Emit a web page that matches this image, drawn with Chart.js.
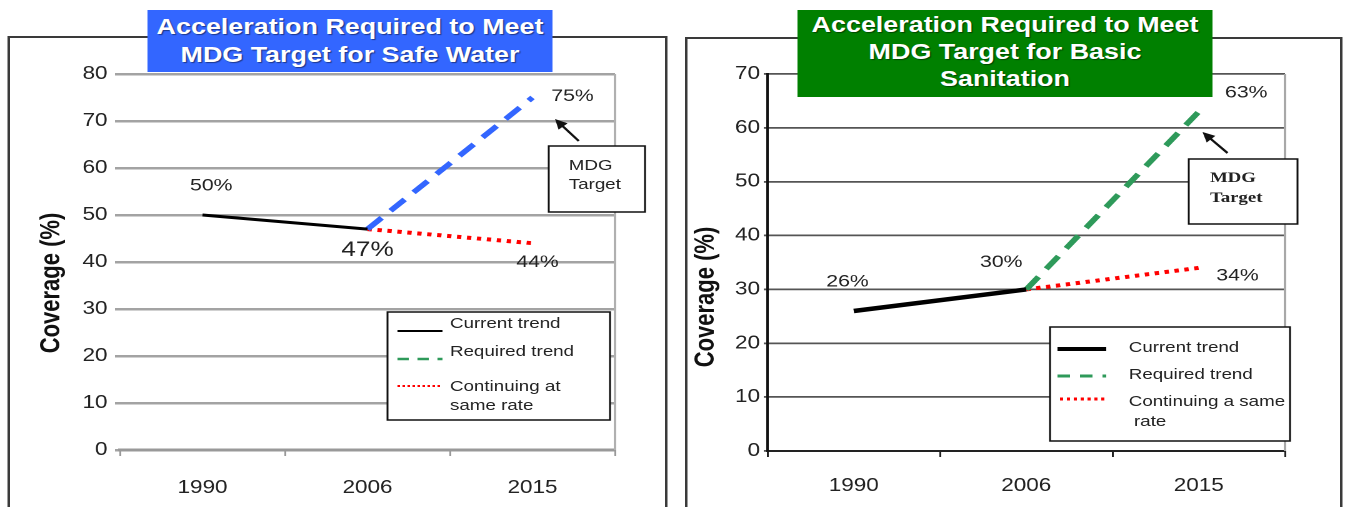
<!DOCTYPE html>
<html>
<head>
<meta charset="utf-8">
<script src="https://cdn.jsdelivr.net/npm/chart.js@4.4.0/dist/chart.umd.min.js"></script>
<style>
  body { margin: 0; background: #fff; width: 1346px; height: 507px; overflow: hidden; }
  #stage { position: absolute; left: 0; top: 0; width: 1077px; height: 507px;
           transform: scaleX(1.25); transform-origin: 0 0; font-family: "Liberation Sans", Arial, sans-serif; }
  .frame { position: absolute; border: 2px solid #3a3a3a; height: 490px; }
  canvas { position: absolute; top: 0; }
  .ttl { position: absolute; top: 10px; color: #fff; font-weight: bold; font-size: 21.5px;
         text-align: center; text-shadow: 1px 1px 1px rgba(0,0,0,0.45); box-sizing: border-box; }
</style>
</head>
<body>
<div id="stage">
  <div class="frame" style="left:6px;top:36px;width:524px"></div>
  <div class="frame" style="left:548px;top:37px;width:522px"></div>
  <canvas id="water" width="540" height="507" style="left:0"></canvas>
  <canvas id="sanit" width="537" height="507" style="left:540px"></canvas>
  <div class="ttl" style="left:118px;width:324px;height:62px;background:#3366ff;line-height:28px;padding-top:3px">Acceleration Required to Meet<br>MDG Target for Safe Water</div>
  <div class="ttl" style="left:638px;width:332px;height:87px;background:#008000;line-height:27px;padding-top:2px">Acceleration Required to Meet<br>MDG Target for Basic<br>Sanitation</div>
</div>
<script>
const years = ['1990', '2006', '2015'];

// safe water
const waterCurrent = [50, 47, null];
const waterRequired = [null, 47, 75];
const waterContinuing = [null, 47, 44];
const waterNames = ['Current trend', 'Required trend', ['Continuing at', 'same rate']];

// basic sanitation
const sanCurrent = [26, 30, null];
const sanRequired = [null, 30, 63];
const sanContinuing = [null, 30, 34];
const sanNames = ['Current trend', 'Required trend', ['Continuing a same', ' rate']];

const FONT = '"Liberation Sans", Arial, sans-serif';

function arrow(ctx, x1, y1, x2, y2) {
  const a = Math.atan2(y2 - y1, x2 - x1);
  ctx.beginPath();
  ctx.moveTo(x1, y1);
  ctx.lineTo(x2 - 6 * Math.cos(a), y2 - 6 * Math.sin(a));
  ctx.stroke();
  ctx.beginPath();
  ctx.moveTo(x2, y2);
  ctx.lineTo(x2 - 11 * Math.cos(a - 0.45), y2 - 11 * Math.sin(a - 0.45));
  ctx.lineTo(x2 - 11 * Math.cos(a + 0.45), y2 - 11 * Math.sin(a + 0.45));
  ctx.closePath();
  ctx.fill();
}

const decor = {
  id: 'decor',
  beforeDatasetsDraw(chart, args, o) {
    const {ctx, chartArea: a} = chart;
    ctx.save();
    ctx.strokeStyle = o.edge;
    ctx.lineWidth = 2;
    ctx.beginPath();
    ctx.moveTo(a.right, a.top);
    ctx.lineTo(a.right, a.bottom);
    ctx.stroke();
    ctx.restore();
  },
  afterDatasetsDraw(chart, args, o) {
    const ctx = chart.ctx;
    ctx.save();
    ctx.fillStyle = '#222';
    ctx.textAlign = 'center';
    ctx.textBaseline = 'middle';
    o.values.forEach(s => {
      const pt = chart.getDatasetMeta(s.ds).data[s.i];
      const v = chart.data.datasets[s.ds].data[s.i];
      ctx.font = s.size + 'px ' + FONT;
      ctx.fillText(v + '%', pt.x + s.dx, pt.y + s.dy);
    });
    ctx.restore();
  },
  afterDraw(chart, args, o) {
    const ctx = chart.ctx;
    ctx.save();
    // y title
    ctx.translate(o.ytitle[0], o.ytitle[1]);
    ctx.rotate(-Math.PI / 2);
    ctx.font = 'bold 22px ' + FONT;
    ctx.fillStyle = '#111';
    ctx.textAlign = 'center';
    ctx.textBaseline = 'middle';
    ctx.fillText('Coverage (%)', 0, 0);
    ctx.restore();

    // MDG target box + arrow
    ctx.save();
    const m = o.mdg;
    ctx.fillStyle = '#fff';
    ctx.fillRect(m.box[0], m.box[1], m.box[2], m.box[3]);
    ctx.strokeStyle = '#111';
    ctx.lineWidth = 1.5;
    ctx.strokeRect(m.box[0], m.box[1], m.box[2], m.box[3]);
    ctx.fillStyle = '#222';
    ctx.font = m.font;
    ctx.textBaseline = 'middle';
    ctx.fillText('MDG', m.tx, m.ty[0]);
    ctx.fillText('Target', m.tx, m.ty[1]);
    ctx.lineWidth = 2;
    ctx.fillStyle = '#111';
    arrow(ctx, m.arrow[0], m.arrow[1], m.arrow[2], m.arrow[3]);
    ctx.restore();

    // legend
    ctx.save();
    const L = o.legend;
    ctx.fillStyle = '#fff';
    ctx.fillRect(L.box[0], L.box[1], L.box[2], L.box[3]);
    ctx.strokeStyle = '#111';
    ctx.lineWidth = 1.5;
    ctx.strokeRect(L.box[0], L.box[1], L.box[2], L.box[3]);
    L.rows.forEach((r, k) => {
      ctx.beginPath();
      ctx.setLineDash(r.dash);
      ctx.strokeStyle = r.color;
      ctx.lineWidth = r.width;
      ctx.moveTo(r.x0, r.y);
      ctx.lineTo(r.x1, r.y);
      ctx.stroke();
      ctx.setLineDash([]);
      ctx.fillStyle = '#222';
      ctx.font = '15px ' + FONT;
      ctx.textBaseline = 'middle';
      const name = [].concat(o.names[k]);
      name.forEach((t, j) => ctx.fillText(t, L.tx, r.ty + j * L.lh));
    });
    ctx.restore();
  }
};

function build(id, d) {
  return new Chart(document.getElementById(id), {
    type: 'line',
    data: {
      labels: years,
      datasets: [
        {label: d.names[0], data: d.current, borderColor: '#000', borderWidth: d.curW, pointRadius: 0},
        {label: d.names[1], data: d.required, borderColor: d.reqColor, borderWidth: 5, borderDash: [16, 10], pointRadius: 0},
        {label: [].concat(d.names[2]).join(' '), data: d.continuing, borderColor: '#ff0000', borderWidth: 4, borderDash: [3.5, 4.5], pointRadius: 0}
      ]
    },
    options: {
      responsive: false,
      animation: false,
      devicePixelRatio: 2,
      layout: {padding: {left: 0, right: d.padRight, top: 74, bottom: 0}},
      plugins: {
        legend: {display: false},
        tooltip: {enabled: false},
        decor: {edge: d.edge, values: d.values, ytitle: d.ytitle, mdg: d.mdg, legend: d.legend, names: d.names}
      },
      scales: {
        x: {
          offset: true,
          grid: {drawOnChartArea: false, offset: true, tickLength: 6, color: d.axisColor, lineWidth: 1.5},
          border: {display: true, color: d.axisColor, width: d.axisW},
          ticks: {font: {family: FONT, size: 18}, color: '#222', padding: d.xPad},
          afterFit(s) { s.height = d.xH; }
        },
        y: {
          min: 0, max: d.max,
          grid: {color: d.gridColor, lineWidth: d.gridW, tickLength: d.yTick},
          border: {display: d.yBorder, color: '#111', width: 2},
          ticks: {stepSize: 10, font: {family: FONT, size: 18}, color: '#222', padding: d.yPad},
          afterFit(s) { s.width = d.yW; }
        }
      }
    },
    plugins: [decor]
  });
}

build('water', {
  names: waterNames, current: waterCurrent, required: waterRequired, continuing: waterContinuing,
  curW: 3, reqColor: '#3366ff', max: 80, padRight: 48, yW: 96, xH: 57, xPad: 21, yPad: 6, yTick: 4,
  gridColor: '#a3a3a3', gridW: 2.5, axisColor: '#999', axisW: 3, yBorder: false, edge: '#b0b0b0',
  ytitle: [41.6, 283],
  values: [
    {ds: 0, i: 0, dx: 7, dy: -29, size: 17},
    {ds: 0, i: 1, dx: 0, dy: 21, size: 21},
    {ds: 2, i: 2, dx: 4, dy: 19, size: 17},
    {ds: 1, i: 2, dx: 32, dy: -1, size: 17}
  ],
  mdg: {box: [439, 146, 77, 66], tx: 455, ty: [166, 185], font: '15px ' + FONT, arrow: [463, 141, 444, 119]},
  legend: {
    box: [310, 312, 178, 108], tx: 360, lh: 19,
    rows: [
      {x0: 318, x1: 354, y: 331, color: '#000', width: 2, dash: [], ty: 324},
      {x0: 318, x1: 354, y: 359, color: '#2e9a5a', width: 2.5, dash: [9, 7], ty: 352},
      {x0: 318, x1: 354, y: 386, color: '#ff0000', width: 2, dash: [2, 2], ty: 387}
    ]
  }
});

build('sanit', {
  names: sanNames, current: sanCurrent, required: sanRequired, continuing: sanContinuing,
  curW: 4.5, reqColor: '#2e9a5a', max: 70, padRight: 49, yW: 74, xH: 56, xPad: 18, yPad: 3, yTick: 3,
  gridColor: '#555', gridW: 1.8, axisColor: '#222', axisW: 2, yBorder: true, edge: '#a8a8a8',
  ytitle: [24.8, 297],
  values: [
    {ds: 0, i: 0, dx: -5, dy: -29, size: 17},
    {ds: 0, i: 1, dx: -20, dy: -27, size: 17},
    {ds: 2, i: 2, dx: 31, dy: 8, size: 17},
    {ds: 1, i: 2, dx: 38, dy: -19, size: 17}
  ],
  mdg: {box: [411, 159, 87, 65], tx: 428, ty: [178, 198], font: 'bold 15px "Liberation Serif", "Times New Roman", serif', arrow: [442, 153, 422, 132]},
  legend: {
    box: [300, 327, 192, 114], tx: 363, lh: 20,
    rows: [
      {x0: 306, x1: 345, y: 349, color: '#000', width: 4, dash: [], ty: 348},
      {x0: 306, x1: 345, y: 376, color: '#2e9a5a', width: 3, dash: [10, 8], ty: 375},
      {x0: 308, x1: 344, y: 399, color: '#ff0000', width: 3, dash: [2.5, 3], ty: 402}
    ]
  }
});
</script>
</body>
</html>
